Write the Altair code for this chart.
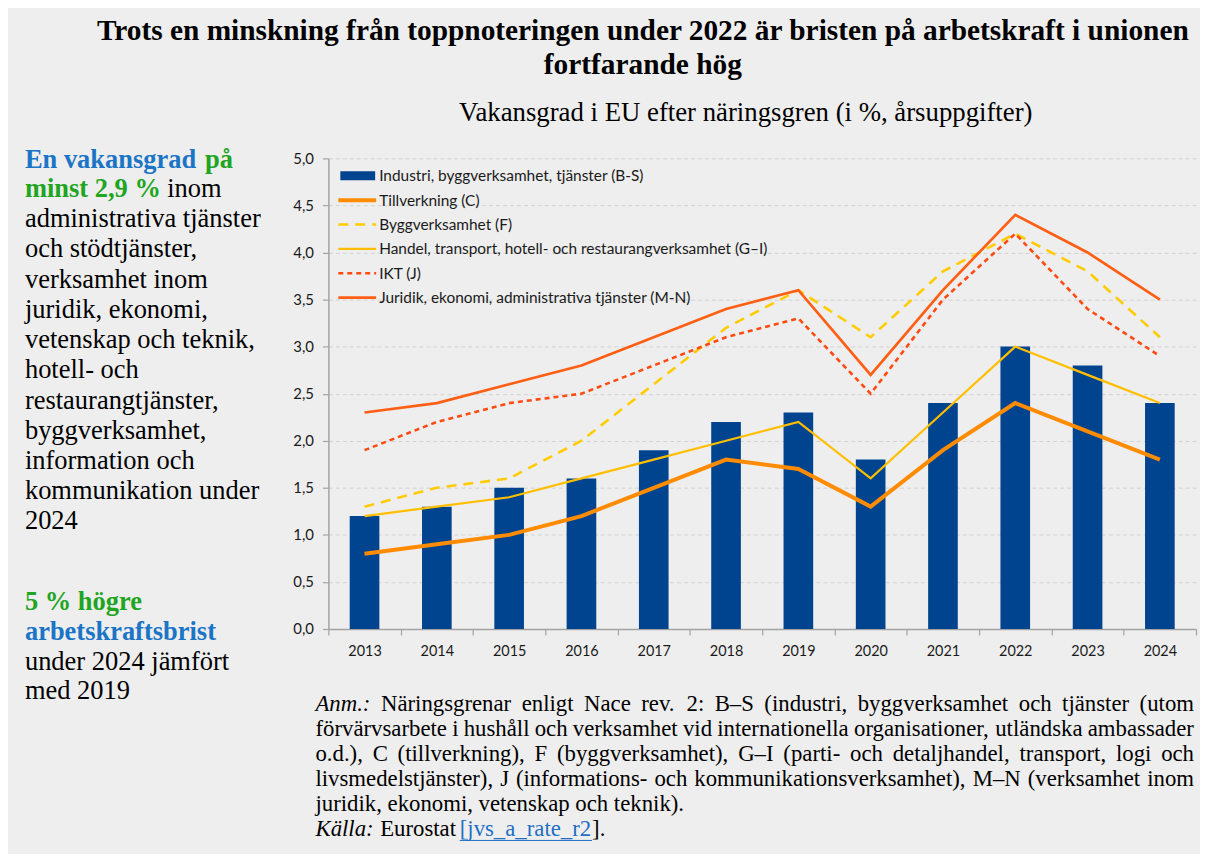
import altair as alt
import pandas as pd

# ---------------- data ----------------
years = ["2013", "2014", "2015", "2016", "2017", "2018", "2019", "2020", "2021", "2022", "2023", "2024"]
bs_vals = [1.2, 1.3, 1.5, 1.6, 1.9, 2.2, 2.3, 1.8, 2.4, 3.0, 2.8, 2.4]
c_vals = [0.8, 0.9, 1.0, 1.2, 1.5, 1.8, 1.7, 1.3, 1.9, 2.4, 2.1, 1.8]
f_vals = [1.3, 1.5, 1.6, 2.0, 2.6, 3.2, 3.6, 3.1, 3.8, 4.2, 3.8, 3.1]
gi_vals = [1.2, 1.3, 1.4, 1.6, 1.8, 2.0, 2.2, 1.6, 2.3, 3.0, 2.7, 2.4]
j_vals = [1.9, 2.2, 2.4, 2.5, 2.8, 3.1, 3.3, 2.5, 3.5, 4.2, 3.4, 2.9]
mn_vals = [2.3, 2.4, 2.6, 2.8, 3.1, 3.4, 3.6, 2.7, 3.6, 4.4, 4.0, 3.5]

series_names = [
    "Industri, byggverksamhet, tjänster (B-S)",
    "Tillverkning (C)",
    "Byggverksamhet (F)",
    "Handel, transport, hotell- och restaurangverksamhet (G\u2013I)",
    "IKT (J)",
    "Juridik, ekonomi, administrativa tjänster (M-N)",
]
y_ticks = [0, 0.5, 1.0, 1.5, 2.0, 2.5, 3.0, 3.5, 4.0, 4.5, 5.0]

title_lines = [
    "Trots en minskning från toppnoteringen under 2022 är bristen på arbetskraft i unionen",
    "fortfarande hög",
]
subtitle = "Vakansgrad i EU efter näringsgren (i %, årsuppgifter)"
side_body = ("administrativa tjänster\noch stödtjänster,\nverksamhet inom\njuridik, ekonomi,\n"
             "vetenskap och teknik,\nhotell- och\nrestaurangtjänster,\nbyggverksamhet,\n"
             "information och\nkommunikation under\n2024")
note_lines = [
    "Näringsgrenar enligt Nace rev. 2: B\u2013S (industri, byggverksamhet och tjänster (utom",
    "förvärvsarbete i hushåll och verksamhet vid internationella organisationer, utländska ambassader",
    "o.d.), C (tillverkning), F (byggverksamhet), G\u2013I (parti- och detaljhandel, transport, logi och",
    "livsmedelstjänster), J (informations- och kommunikationsverksamhet), M\u2013N (verksamhet inom",
    "juridik, ekonomi, vetenskap och teknik).",
]

# ---------------- styles ----------------
W, H = 872, 473
X0, Y0 = 330, 157          # page position of plot origin
BLUE_T = "#1b75c6"
GREEN_T = "#1fa51f"
SERIF = "Liberation Serif"
SANS = "Lato"

line_styles = [
    (1, "#ff8c00", 4.0, None),
    (2, "#ffcc00", 2.6, [10, 7]),
    (3, "#ffbf00", 2.2, None),
    (4, "#ff4a12", 2.6, [5, 4]),
    (5, "#ff5f14", 2.7, None),
]
series_vals = [bs_vals, c_vals, f_vals, gi_vals, j_vals, mn_vals]

xscale = alt.Scale(domain=years, paddingInner=0, paddingOuter=0)
yscale = alt.Scale(domain=[0, 5], nice=False, zero=True)

x_axis = alt.Axis(title=None, labelAngle=0, tickBand="extent", domainColor="#a3a3a3",
                  domainWidth=1.5, tickColor="#a3a3a3", tickWidth=1.2, tickSize=6,
                  labelPadding=10, labelFont=SANS, labelFontSize=14.5, labelColor="#1a1a1a",
                  grid=False)
y_axis = alt.Axis(title=None, values=y_ticks,
                  labelExpr="replace(format(datum.value, '.1f'), '.', ',')",
                  domainColor="#a3a3a3", domainWidth=1.5, tickColor="#a3a3a3", tickWidth=1.2,
                  tickSize=6, labelPadding=9, labelFont=SANS, labelFontSize=15,
                  labelColor="#1a1a1a", grid=True, gridColor="#d2d2d2", gridDash=[4, 3],
                  gridWidth=1)

X = alt.X("year:N", scale=xscale, axis=x_axis)
Y = alt.Y("v:Q", scale=yscale, axis=y_axis)

layers = []
bars = alt.Chart(pd.DataFrame({"year": years, "v": bs_vals})).mark_bar(
    color="#00448f", width=alt.RelativeBandSize(0.41)).encode(x=X, y=Y)
layers.append(bars)

for idx, col, sw, dash in line_styles:
    mk = dict(color=col, strokeWidth=sw, strokeJoin="miter")
    if dash:
        mk["strokeDash"] = dash
    layers.append(alt.Chart(pd.DataFrame({"year": years, "v": series_vals[idx]}))
                  .mark_line(**mk).encode(x=X, y=Y))


def txt(s, x, y, size, color="#000000", weight="normal", style="normal", font=SERIF,
        align="left", baseline="alphabetic", lh=None):
    mk = dict(align=align, baseline=baseline, font=font, fontSize=size, fontWeight=weight,
              fontStyle=style, color=color)
    if lh:
        mk.update(lineBreak="\n", lineHeight=lh)
    return alt.Chart(pd.DataFrame({"t": [s]})).mark_text(**mk).encode(
        text="t:N", x=alt.value(x - X0), y=alt.value(y - Y0))


# Times-Roman advance widths (per 1000 em) for justifying the note lines
_TW = {" ": 250, "(": 333, ")": 333, ",": 250, "-": 333, ".": 250, ":": 278, "%": 833,
       "_": 500, "[": 333, "]": 333, "\u2013": 500,
       "A": 722, "B": 667, "C": 667, "D": 722, "E": 611, "F": 556, "G": 722, "H": 722,
       "I": 333, "J": 389, "K": 722, "L": 611, "M": 889, "N": 722, "O": 722, "P": 556,
       "R": 667, "S": 556, "T": 611, "U": 722, "V": 722,
       "a": 444, "b": 500, "c": 444, "d": 500, "e": 444, "f": 333, "g": 500, "h": 500,
       "i": 278, "j": 278, "k": 500, "l": 278, "m": 778, "n": 500, "o": 500, "p": 500,
       "q": 500, "r": 333, "s": 389, "t": 278, "u": 500, "v": 500, "w": 722, "x": 500,
       "y": 500, "z": 444, "ä": 444, "å": 444, "ö": 500}


def tw(s, size):
    return sum(_TW.get(ch, 500) for ch in s) * size / 1000.0


def justified(words, x_left, x_right, y, size, first_width=None):
    out = []
    widths = [tw(w, size) for w in words]
    if first_width is not None:
        widths[0] = first_width
    gap = (x_right - x_left - sum(widths)) / (len(words) - 1)
    x = x_left
    for w, wd in zip(words, widths):
        out.append((w, x))
        x += wd + gap
    return out


# ---------------- legend (inside plot) ----------------
leg_y0, leg_dy = 174.5, 24.5
layers.append(alt.Chart(pd.DataFrame({"t": [series_names[0]]})).mark_rect(color="#00448f").encode(
    x=alt.value(342 - X0), x2=alt.value(377 - X0),
    y=alt.value(leg_y0 - 4.5 - Y0), y2=alt.value(leg_y0 + 4.5 - Y0)))
for idx, col, sw, dash in line_styles:
    yy = leg_y0 + leg_dy * idx
    mk = dict(color=col, strokeWidth=sw)
    if dash:
        mk["strokeDash"] = dash
    layers.append(alt.Chart(pd.DataFrame({"t": [series_names[idx]]})).mark_rule(**mk).encode(
        x=alt.value(340 - X0), x2=alt.value(378 - X0), y=alt.value(yy - Y0)))
for i, name in enumerate(series_names):
    layers.append(txt(name, 381, leg_y0 + leg_dy * i + 0.5, 15.5, color="#1a1a1a", font=SANS,
                      baseline="middle"))

# ---------------- titles ----------------
layers.append(txt(title_lines[0], 646, 38, 29.5, weight="bold", align="center"))
layers.append(txt(title_lines[1], 646, 72, 29.5, weight="bold", align="center"))
layers.append(txt(subtitle, 749.5, 119, 26.9, align="center"))

# ---------------- side text ----------------
SX = 25
SZ = 26.6
layers.append(txt("En vakansgrad", SX, 167, SZ, color=BLUE_T, weight="bold"))
layers.append(txt("på", 206, 167, SZ, color=GREEN_T, weight="bold"))
layers.append(txt("minst 2,9 %", SX, 196, SZ, color=GREEN_T, weight="bold"))
layers.append(txt("inom", 168, 196, SZ))
layers.append(txt(side_body, SX, 226, SZ, lh=30.4))
layers.append(txt("5 % högre", SX, 611, SZ, color=GREEN_T, weight="bold"))
layers.append(txt("arbetskraftsbrist", SX, 641, SZ, color=BLUE_T, weight="bold"))
layers.append(txt("under 2024 jämfört", SX, 671, SZ))
layers.append(txt("med 2019", SX, 700, SZ))

# ---------------- note ----------------
NX, NR = 317, 1200
NZ = 22.9
NL = 25.3
NY = 712
anm_w = (611 + 500 + 722 + 250 + 333) * NZ / 1000.0
line1 = justified(["Anm.:"] + note_lines[0].split(" "), NX, NR, NY, NZ, first_width=anm_w)
for k, (w, x) in enumerate(line1):
    layers.append(txt(w, x, NY, NZ, style="italic" if k == 0 else "normal"))
for i in range(1, 4):
    for w, x in justified(note_lines[i].split(" "), NX, NR, NY + NL * i, NZ):
        layers.append(txt(w, x, NY + NL * i, NZ))
layers.append(txt(note_lines[4], NX, NY + NL * 4, NZ))
ky = NY + NL * 5
layers.append(txt("Källa:", NX, ky, NZ, style="italic"))
layers.append(txt("Eurostat", 382, ky, NZ))
layers.append(txt("[jvs_a_rate_r2", 462, ky, NZ, color="#1f6fc5"))
layers.append(txt("].", 595, ky, NZ))
layers.append(alt.Chart(pd.DataFrame({"t": ["link"]})).mark_rule(color="#1f6fc5", strokeWidth=1).encode(
    x=alt.value(462 - X0), x2=alt.value(595 - X0), y=alt.value(ky + 4 - Y0)))

chart = alt.layer(*layers).properties(
    width=W, height=H,
    padding={"left": 322, "top": 149, "right": 4, "bottom": 224},
    autosize=alt.AutoSizeParams(type="none"),
    background="#eeeeee",
).configure_view(stroke=None)

chart.save("out.html", embed_options={"renderer": "svg", "actions": False})
